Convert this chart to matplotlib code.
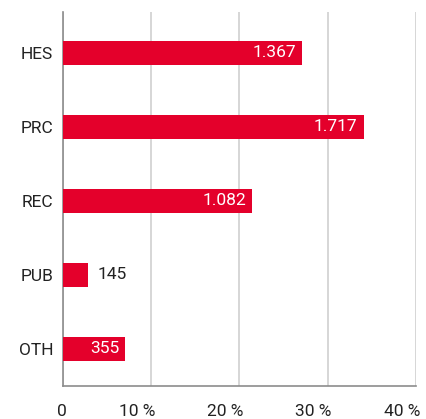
import matplotlib.pyplot as plt
import matplotlib.transforms as mtransforms

# sector counts and the overall total they are shares of
categories = ['HES', 'PRC', 'REC', 'PUB', 'OTH']
counts = [1367, 1717, 1082, 145, 355]
total = 5040
x_ticks = [0, 10, 20, 30, 40]
x_labels = ['0', '10 %', '20 %', '30 %', '40 %']

RED = '#E4002B'
TEXT = '#222222'

plt.rcParams['font.family'] = ['Roboto', 'DejaVu Sans']

shares = [c / total * 100 for c in counts]
ypos = list(range(len(categories)))[::-1]

fig = plt.figure(figsize=(4.27, 4.19), dpi=100)
ax = fig.add_axes([0.1475, 0.079, 0.8265, 0.892])

ax.barh(ypos, shares, height=0.32, color=RED, zorder=3)

# value labels: white inside the long bars, dark next to the short one
for y, s, c in zip(ypos, shares, counts):
	label = '{:,}'.format(c).replace(',', '.')
	if s > 5:
		ax.annotate(label, (s, y), xytext=(-6, 0), textcoords='offset pixels',
					color='white', ha='right', va='center', fontsize=12.5, zorder=4)
	else:
		ax.annotate(label, (s, y), xytext=(9, 0), textcoords='offset pixels',
					color=TEXT, ha='left', va='center', fontsize=12.5, zorder=4)

ax.set_xlim(0, 40)
ax.set_ylim(-0.5, 4.55)
ax.set_xticks(x_ticks)
ax.set_xticklabels(x_labels)
ax.set_yticks(ypos)
ax.set_yticklabels(categories)
ax.tick_params(axis='both', length=0, labelsize=12.5, labelcolor=TEXT)
ax.tick_params(axis='x', pad=13)
ax.tick_params(axis='y', pad=7)

# x labels sit just left of their gridline
shift = mtransforms.ScaledTranslation(4 / 100, 0, fig.dpi_scale_trans)
for lab in ax.get_xticklabels():
	lab.set_horizontalalignment('right')
	lab.set_transform(lab.get_transform() + shift)

ax.grid(axis='x', color='#cfcfcf', linewidth=1.2, zorder=0)
for side in ['top', 'right']:
	ax.spines[side].set_visible(False)
for side in ['left', 'bottom']:
	ax.spines[side].set_color('#8c8c8c')
	ax.spines[side].set_linewidth(1.2)

fig.savefig('out.png', dpi=100)
